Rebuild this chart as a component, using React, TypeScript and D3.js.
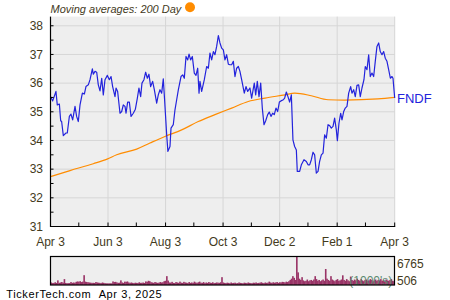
import React from "react";
import * as d3 from "d3";

const START = "2024-04-03";
const END = "2025-04-03";

const tickDates = ["2024-04-03", "2024-06-03", "2024-08-03", "2024-10-03", "2024-12-02", "2025-02-01", "2025-04-03"];
const tickLabels = ["Apr 3", "Jun 3", "Aug 3", "Oct 3", "Dec 2", "Feb 1", "Apr 3"];
const minorTickDates = ["2024-05-03", "2024-07-03", "2024-09-02", "2024-11-02", "2025-01-01", "2025-03-03"];
const yTicks = [31, 32, 33, 34, 35, 36, 37, 38];

// days since Apr 3 2024
const priceDays = [
  0, 2.3, 5.8, 7.2, 9.4, 10.8, 11.8, 13.6, 16.4, 17.8, 20, 21.7, 23.5, 26, 27.7, 29.5, 31.3, 33.8, 35.9, 37.6,
  40.1, 41.9, 44.4, 45.4, 47.2, 49, 50.7, 52.5, 54.3, 56, 57.8, 60.3, 62.4, 64.2, 65.9, 68.4, 69.5, 71.2, 73.7, 75.5,
  77.2, 79, 80.1, 81.8, 83.6, 85.4, 87.8, 90, 92.1, 93.8, 95.6, 97, 99.1, 100.9, 102.7, 104.4, 106.2, 108.3, 110.1, 112.6,
  114.3, 116.1, 117.9, 119.6, 121.1, 123.2, 124.5, 126.7, 127.8, 130.2, 132, 133.8, 135.6, 138.4, 140.2, 141.9, 143.7, 145.5, 146.9, 148.6,
  150.4, 152.5, 154.3, 156.1, 157.5, 158.5, 160.3, 163.1, 165.6, 167.4, 169.1, 170.9, 172.7, 174.4, 176.2, 178, 179.7, 181.5, 183.3, 185,
  186.8, 188.6, 190.3, 192.1, 193.9, 195.6, 197.4, 199.2, 200.9, 202.7, 205.5, 207.3, 209.1, 211.5, 213.3, 216.1, 217.6, 219.3, 221.1, 222.9,
  224.6, 226.4, 228.2, 230.3, 232, 233.8, 235.6, 237.3, 239.1, 240.9, 242.7, 244.4, 246.9, 248.3, 250.1, 251.8, 253.6, 255.4, 257.1, 258.9,
  260.7, 261.7, 264.2, 266, 268.8, 271.3, 273.1, 274.8, 276.6, 278.4, 280.1, 281.9, 283.7, 285.4, 287.2, 289, 290.7, 292.5, 294.3, 296,
  297.8, 299.6, 301.3, 303.1, 304.2, 305.9, 307.7, 309.1, 310.9, 312.6, 314.4, 316.2, 318.3, 319.7, 321.5, 323.2, 325, 326.8, 328.5, 330.3,
  332.4, 333.8, 335.6, 337.4, 339.1, 340.9, 342.7, 344.4, 346.2, 348, 349.7, 351.5, 353.3, 355, 356.8, 358.6, 360.4, 362.1, 363.2, 365,
];
const prices = [
  35.53, 35.38, 35.71, 35.24, 35.27, 34.69, 34.66, 34.17, 34.26, 34.26, 34.84, 34.92, 34.72, 35.19, 34.84, 34.66, 35.24, 35.65, 35.62, 35.88,
  35.94, 36.12, 36.5, 36.31, 36.41, 36.38, 35.94, 35.73, 36.17, 35.59, 36.12, 36.27, 36.12, 36.23, 35.88, 35.53, 35.83, 35.71, 34.95, 35.01,
  35.24, 35.19, 34.95, 35.34, 35.34, 34.84, 34.95, 35.09, 35.48, 35.83, 35.53, 36.0, 36.12, 36.38, 36.17, 36.31, 35.88, 36.06, 35.77, 35.3,
  35.59, 35.77, 35.65, 36.15, 35.36, 34.2, 33.62, 33.79, 34.43, 34.55, 35.07, 35.42, 35.77, 36.23, 36.29, 36.17, 36.93, 36.81, 37.01, 36.81,
  36.93, 36.35, 36.27, 36.52, 35.65, 36.06, 35.71, 36.12, 36.58, 36.52, 37.05, 36.81, 37.1, 36.99, 37.28, 37.66, 37.4, 37.22, 37.16, 36.81,
  36.99, 36.66, 36.64, 36.64, 36.76, 36.23, 36.52, 36.58, 36.41, 36.12, 35.65, 35.88, 35.71, 35.83, 35.48, 36.0, 35.59, 36.06, 35.53, 36.0,
  35.13, 34.55, 34.69, 34.9, 34.99, 34.84, 34.95, 34.9, 35.13, 35.01, 35.34, 35.38, 35.42, 35.48, 35.69, 35.53, 35.34, 35.59, 34.02, 33.79,
  33.67, 32.92, 32.92, 33.15, 33.33, 33.27, 33.15, 33.15, 33.33, 33.59, 33.5, 32.86, 32.92, 33.27, 33.5, 33.56, 34.2, 34.08, 34.55, 34.52,
  34.43, 34.49, 34.78, 34.37, 33.99, 34.6, 34.95, 34.72, 35.01, 35.13, 35.19, 35.65, 35.88, 35.65, 35.77, 35.53, 35.92, 35.94, 35.53, 35.83,
  36.12, 36.58, 36.47, 36.99, 36.23, 36.35, 36.23, 36.76, 37.28, 37.4, 37.1, 36.99, 37.1, 36.87, 36.76, 36.47, 36.17, 36.23, 36.17, 35.48,
];

const maDays = [0, 20.7, 45.4, 60, 70.2, 91.4, 105.5, 121.4, 139.1, 156.7, 174.4, 192.1, 209.7, 227.5, 248.7, 259, 276.6, 294.3, 312, 347.3, 365];
const maValues = [32.74, 32.95, 33.19, 33.35, 33.5, 33.7, 33.91, 34.14, 34.37, 34.66, 34.9, 35.13, 35.36, 35.48, 35.59, 35.65, 35.56, 35.42, 35.41, 35.45, 35.5];

// volume in thousands, one per trading day
const volumes = [
  600, 450, 500, 650, 480, 1100, 500, 600, 700, 550,
  1400, 480, 420, 430, 450, 700, 500, 600, 520, 750,
  850, 780, 900, 700, 800, 2330, 800, 700, 650, 600,
  550, 500, 520, 480, 700, 600, 550, 500, 430, 600,
  500, 420, 400, 380, 380, 400, 380, 850, 700, 750,
  600, 500, 550, 1100, 600, 500, 800, 750, 850, 600,
  500, 600, 500, 450, 550, 500, 480, 650, 500, 520,
  580, 480, 850, 750, 1000, 900, 650, 600, 500, 700,
  600, 500, 550, 700, 600, 650, 900, 1000, 2100, 1050,
  600, 550, 750, 500, 450, 700, 600, 500, 800, 550,
  500, 750, 600, 550, 450, 700, 500, 600, 500, 800,
  600, 500, 650, 800, 550, 500, 700, 450, 600, 500,
  700, 550, 500, 650, 450, 500, 600, 550, 500, 650,
  1860, 600, 500, 450, 550, 500, 400, 600, 450, 500,
  550, 400, 450, 600, 500, 450, 400, 550, 500, 450,
  600, 500, 450, 400, 550, 500, 600, 450, 500, 550,
  650, 500, 450, 600, 500, 550, 800, 600, 500, 650,
  550, 600, 700, 500, 650, 600, 750, 700, 600, 800,
  700, 900, 1200, 1500, 2100, 1700, 1200, 6765, 3000, 1500,
  1200, 1860, 1100, 900, 1000, 1300, 900, 1100, 1200, 1000,
  1300, 2100, 1400, 1000, 1200, 900, 1100, 1300, 1000, 3800,
  1500, 1200, 1000, 2100, 1300, 1100, 900, 1200, 1400, 1000,
  1100, 1300, 2300, 1200, 1000, 1400, 1100, 900, 2000, 1200,
  1000, 1300, 1100, 1500, 1200, 1000, 1400, 1100, 900, 1200,
  1300, 1000, 1100, 1400, 1200, 900, 1100, 1300, 1000, 1200,
  1100, 1400, 1000, 1200, 900, 1300, 1100, 1000, 1200, 1400, 1000, 900,
];
const volumeMax = 6765;
const volumeMin = 506;

const FONT = "Arial, 'Liberation Sans', sans-serif";
const LABEL = "#433a1c";
const DAY = 864e5;

export default function App() {
  const t0 = new Date(START).getTime();
  const toDate = (d: number) => new Date(t0 + d * DAY);

  const x = d3.scaleUtc().domain([new Date(START), new Date(END)]).range([50.5, 394.7]);
  const y = d3.scaleLinear().domain([31, 38.32]).range([226.5, 16.6]);

  const priceLine = d3
    .line<number>()
    .x((_, i) => x(toDate(priceDays[i])))
    .y((v) => y(v))(prices) as string;
  const maLine = d3
    .line<number>()
    .x((_, i) => x(toDate(maDays[i])))
    .y((v) => y(v))
    .curve(d3.curveMonotoneX)(maValues) as string;

  const vx = d3.scaleBand<number>().domain(volumes.map((_, i) => i)).range([50.5, 394.5]).padding(0);
  const vy = d3.scaleLinear().domain([0, volumeMax]).range([285, 256.5]);

  const halfTicks = d3.range(31, 38.01, 0.5);

  return (
    <svg width={450} height={300} style={{ position: "fixed", left: 0, top: 0, background: "#fff" }} fontFamily={FONT}>
      {/* legend */}
      <text x={50.5} y={12.7} fontSize={11} fontStyle="italic" fill={LABEL}>
        Moving averages: 200 Day
      </text>
      <circle cx={190} cy={7.3} r={5} fill="#ff8c00" />

      {/* plot background */}
      <rect x={x.range()[0]} y={y.range()[1]} width={x.range()[1] - x.range()[0]} height={y.range()[0] - y.range()[1]} fill="#eeeeee" />
      {yTicks.map((t) => (
        <line key={"gy" + t} x1={50.5} x2={394.7} y1={y(t)} y2={y(t)} stroke="#d6d6d6" strokeWidth={1} />
      ))}
      {tickDates.slice(1).map((d) => (
        <line key={"gx" + d} x1={x(new Date(d))} x2={x(new Date(d))} y1={y.range()[1]} y2={226.5} stroke="#d6d6d6" strokeWidth={1} />
      ))}

      {/* series */}
      <path d={maLine} fill="none" stroke="#ff8c00" strokeWidth={1.2} />
      <path d={priceLine} fill="none" stroke="#2323dc" strokeWidth={1.2} strokeLinejoin="round" />

      {/* axes */}
      <line x1={50.5} x2={50.5} y1={y.range()[1]} y2={227} stroke="#000" strokeWidth={1.2} />
      <line x1={50} x2={395.2} y1={226.5} y2={226.5} stroke="#000" strokeWidth={1.2} />
      {halfTicks.map((t) => (
        <line key={"ty" + t} x1={50.5} x2={53.5} y1={y(t)} y2={y(t)} stroke="#000" strokeWidth={1} />
      ))}
      {[...tickDates, ...minorTickDates].map((d) => (
        <line key={"tx" + d} x1={x(new Date(d))} x2={x(new Date(d))} y1={226.5} y2={222.5} stroke="#000" strokeWidth={1} />
      ))}
      {yTicks.map((t) => (
        <text key={"ly" + t} x={43} y={y(t) + 4.3} fontSize={12} textAnchor="end" fill={LABEL}>
          {t}
        </text>
      ))}
      {tickDates.map((d, i) => (
        <text key={"lx" + d} x={x(new Date(d))} y={246} fontSize={12} textAnchor="middle" fill={LABEL}>
          {tickLabels[i]}
        </text>
      ))}
      <text x={397} y={103.3} fontSize={13} fill="#2323dc">
        FNDF
      </text>

      {/* volume panel */}
      <rect x={50.5} y={256.5} width={344} height={28.5} fill="#eeeeee" />
      {volumes.map((v, i) => (
        <rect key={"v" + i} x={vx(i)!} y={vy(v)} width={vx.bandwidth() + 0.3} height={vy(0) - vy(v)} fill="#993366" />
      ))}
      <text x={349.3} y={284.5} fontSize={12} fill="#5c8a70">
        (1000's)
      </text>
      <rect x={50.5} y={256.5} width={344} height={28.5} fill="none" stroke="#000" strokeWidth={1.2} />
      <text x={397} y={267.5} fontSize={12} fill={LABEL}>
        {volumeMax}
      </text>
      <text x={397} y={285.3} fontSize={12} fill={LABEL}>
        {volumeMin}
      </text>

      <text x={6.3} y={297.6} fontSize={11} fill="#000" letterSpacing={0.6}>
        TickerTech.com{"\u00a0\u00a0"}Apr 3, 2025
      </text>
    </svg>
  );
}
